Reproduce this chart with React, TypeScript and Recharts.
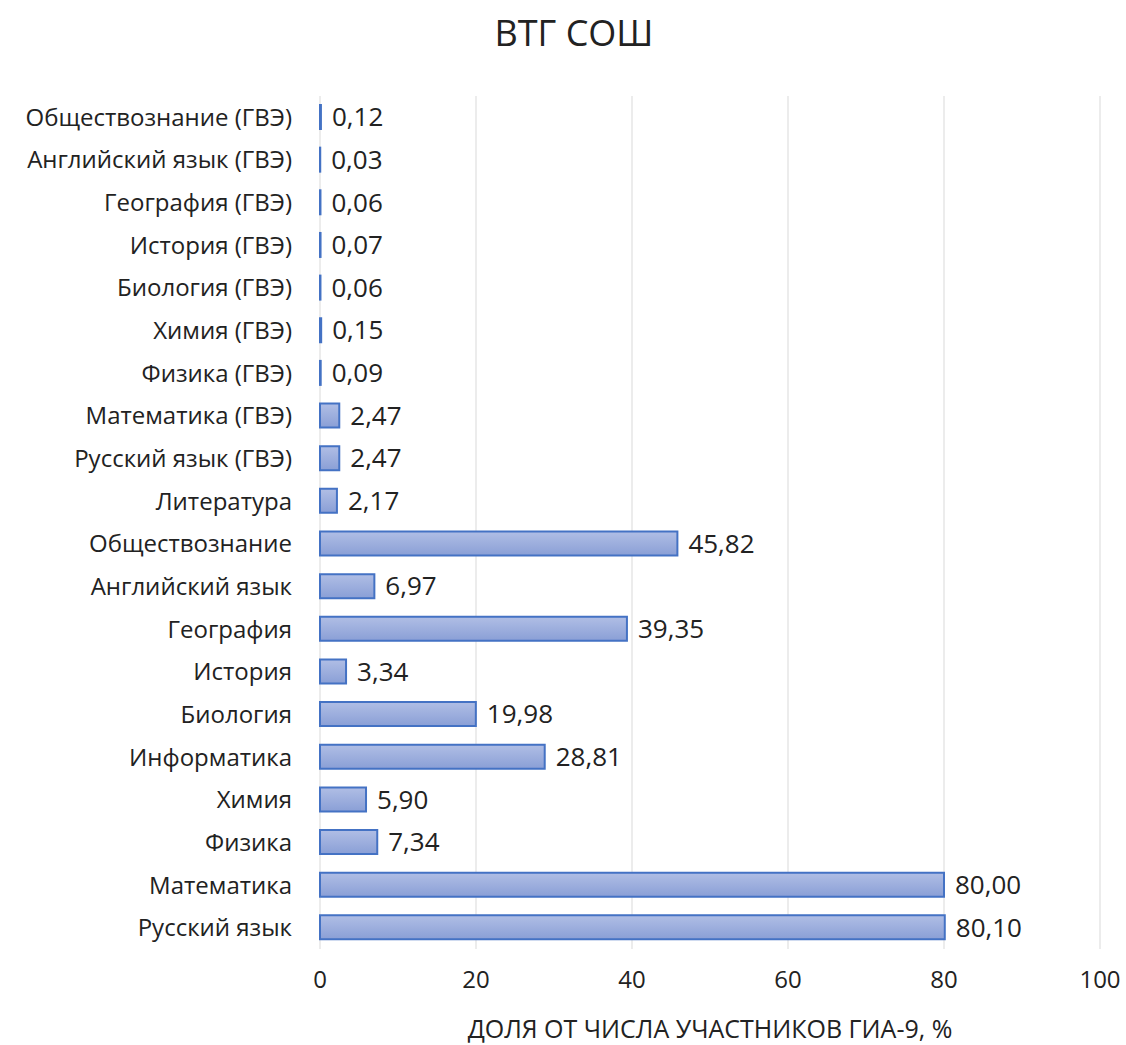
import { Bar, BarChart, CartesianGrid, LabelList, Label, XAxis, YAxis } from "recharts";

const subjects = [
  "Обществознание (ГВЭ)",
  "Английский язык (ГВЭ)",
  "География (ГВЭ)",
  "История (ГВЭ)",
  "Биология (ГВЭ)",
  "Химия (ГВЭ)",
  "Физика (ГВЭ)",
  "Математика (ГВЭ)",
  "Русский язык (ГВЭ)",
  "Литература",
  "Обществознание",
  "Английский язык",
  "География",
  "История",
  "Биология",
  "Информатика",
  "Химия",
  "Физика",
  "Математика",
  "Русский язык",
];

const shares = [
  0.12, 0.03, 0.06, 0.07, 0.06, 0.15, 0.09, 2.47, 2.47, 2.17,
  45.82, 6.97, 39.35, 3.34, 19.98, 28.81, 5.9, 7.34, 80.0, 80.1,
];

const xTicks = [0, 20, 40, 60, 80, 100];

const data = subjects.map((name, i) => ({ name, value: shares[i] }));

const font = "'Open Sans', sans-serif";
const fmt = (v: number) => v.toFixed(2).replace(".", ",");

export default function App() {
  return (
    <div style={{ position: "absolute", left: 0, top: 0, width: 1126, height: 1045, background: "#fff", fontFamily: font }}>
      <div
        style={{
          position: "absolute",
          top: 8,
          left: 0,
          width: 1148,
          textAlign: "center",
          fontSize: 36,
          lineHeight: "50px",
          color: "#222",
        }}
      >
        ВТГ СОШ
      </div>
      <BarChart
        width={1126}
        height={1045}
        data={data}
        layout="vertical"
        margin={{ top: 96, right: 26, bottom: 0, left: 0 }}
        barSize={24}
      >
        <defs>
          <linearGradient id="barFill" x1="0" y1="0" x2="0" y2="1">
            <stop offset="0%" stopColor="#b0bee5" />
            <stop offset="100%" stopColor="#8a9fd6" />
          </linearGradient>
        </defs>
        <CartesianGrid horizontal={false} stroke="#d9d9d9" strokeWidth={1} />
        <XAxis
          type="number"
          domain={[0, 100]}
          ticks={xTicks}
          height={96}
          axisLine={false}
          tickLine={false}
          tickSize={0}
          tickMargin={22}
          tick={{ fill: "#222", fontSize: 24, fontFamily: font }}
        >
          <Label
            value="ДОЛЯ ОТ ЧИСЛА УЧАСТНИКОВ ГИА-9, %"
            position="insideBottom"
            offset={7}
            style={{ fill: "#222", fontSize: 25, fontFamily: font }}
          />
        </XAxis>
        <YAxis
          type="category"
          dataKey="name"
          width={320}
          axisLine={false}
          tickLine={false}
          tickSize={0}
          tickMargin={28}
          interval={0}
          tick={{ fill: "#222", fontSize: 24, fontFamily: font }}
        />
        <Bar dataKey="value" fill="url(#barFill)" stroke="#4472c4" strokeWidth={2} isAnimationActive={false}>
          <LabelList
            dataKey="value"
            position="right"
            offset={11}
            formatter={(v: number) => fmt(v)}
            style={{ fill: "#222", fontSize: 26, fontFamily: font }}
          />
        </Bar>
      </BarChart>
    </div>
  );
}
